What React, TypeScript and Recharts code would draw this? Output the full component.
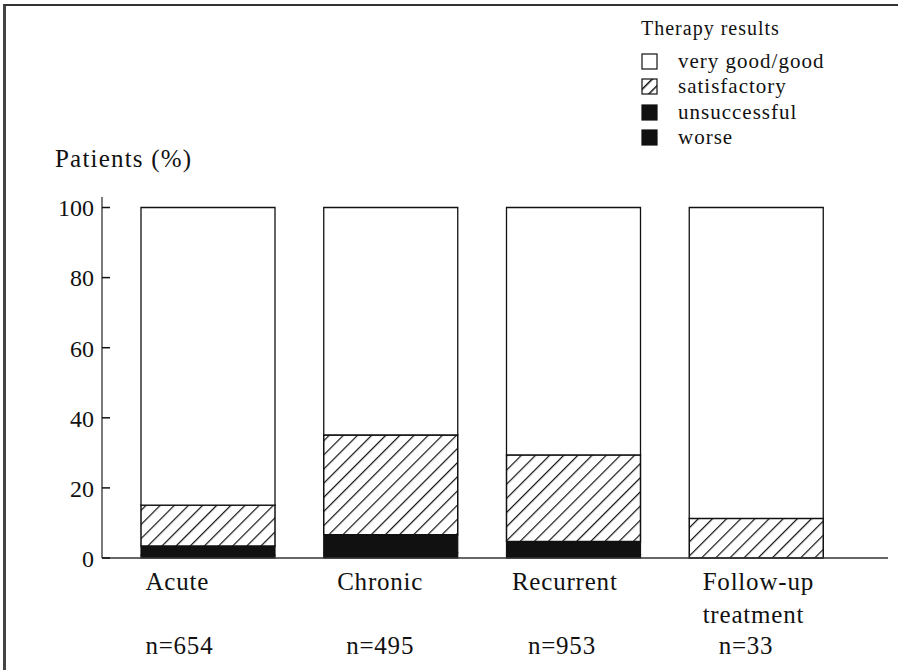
import { BarChart, Bar, XAxis, YAxis, Legend } from 'recharts';

const categories = ['Acute', 'Chronic', 'Recurrent', 'Follow-up\ntreatment'];
const sampleSizes = ['n=654', 'n=495', 'n=953', 'n=33'];

const worse = [0.8, 1.5, 1.0, 0];
const unsuccessful = [2.6, 5.1, 3.7, 0];
const satisfactory = [11.7, 28.5, 24.7, 11.3];
const veryGoodGood = [84.9, 64.9, 70.6, 88.7];

const yTicks = [0, 20, 40, 60, 80, 100];

const legendItems = [
  { key: 'good', label: 'very good/good' },
  { key: 'satisfactory', label: 'satisfactory' },
  { key: 'unsuccessful', label: 'unsuccessful' },
  { key: 'worse', label: 'worse' },
];

const data = categories.map((c, i) => ({
  name: c,
  n: sampleSizes[i],
  worse: worse[i],
  unsuccessful: unsuccessful[i],
  satisfactory: satisfactory[i],
  good: veryGoodGood[i],
}));

const FONT = '"Liberation Serif", "DejaVu Serif", serif';
const INK = '#111';
const BAR_SIZE = 134;

// label / n= offsets from the bar's left edge, as set in the original
const labelDx = [4, 13, 5, 13];
const nDx = [4, 22, 21, 29];

function CategoryTick(props: any) {
  const { x, y, payload, index } = props;
  const left = x - BAR_SIZE / 2;
  const lines = String(payload.value).split('\n');
  return (
    <g fontFamily={FONT} fontSize={25} letterSpacing={0.8} fill={INK}>
      {lines.map((l, k) => (
        <text key={k} x={left + labelDx[index]} y={y + 32 + k * 33} textAnchor="start">
          {l}
        </text>
      ))}
      <text x={left + nDx[index]} y={y + 96} textAnchor="start">
        {sampleSizes[index]}
      </text>
    </g>
  );
}

function ValueTick(props: any) {
  const { x, y, payload } = props;
  return (
    <g>
      <line x1={x + 6} x2={x + 14} y1={y} y2={y} stroke={INK} strokeWidth={1.5} />
      <text x={x - 2} y={y} dy="0.37em" textAnchor="end" fontFamily={FONT} fontSize={24} fill={INK}>
        {payload.value}
      </text>
    </g>
  );
}

function Swatch({ kind }: { kind: string }) {
  let fill = '#fff';
  if (kind === 'satisfactory') fill = 'url(#hatchSmall)';
  if (kind === 'unsuccessful' || kind === 'worse') fill = INK;
  return (
    <svg width={17} height={17} style={{ display: 'block' }}>
      <defs>
        <pattern id="hatchSmall" patternUnits="userSpaceOnUse" width={8} height={8} patternTransform="rotate(45)">
          <rect width={8} height={8} fill="#fff" />
          <line x1={0} y1={0} x2={0} y2={8} stroke={INK} strokeWidth={3} />
        </pattern>
      </defs>
      <rect x={1} y={1} width={15} height={15} fill={fill} stroke={INK} strokeWidth={1.2} />
    </svg>
  );
}

function TherapyLegend() {
  return (
    <div style={{ fontFamily: FONT, color: INK, letterSpacing: 1 }}>
      <div style={{ fontSize: 20, height: 24, lineHeight: '24px', marginBottom: 9 }}>Therapy results</div>
      {legendItems.map((it) => (
        <div key={it.key} style={{ display: 'flex', alignItems: 'center', height: 25.3, lineHeight: '25.3px' }}>
          <Swatch kind={it.key} />
          <span style={{ marginLeft: 20, fontSize: 21 }}>{it.label}</span>
        </div>
      ))}
    </div>
  );
}

export default function App() {
  return (
    <div style={{ position: 'absolute', left: 0, top: 0, width: 898, height: 670, background: '#fff' }}>
      <div
        style={{
          position: 'absolute',
          left: 3,
          top: 4,
          width: 895,
          height: 666,
          borderTop: '2px solid #333',
          borderLeft: '3px solid #444',
          boxSizing: 'border-box',
        }}
      />
      <BarChart
        width={898}
        height={670}
        data={data}
        margin={{ top: 197, right: 10, bottom: 82, left: 0 }}
        style={{ position: 'absolute', left: 0, top: 0 }}
      >
        <defs>
          <pattern id="hatch" patternUnits="userSpaceOnUse" width={10} height={10} patternTransform="rotate(45)">
            <rect width={10} height={10} fill="#fff" />
            <line x1={0} y1={0} x2={0} y2={10} stroke={INK} strokeWidth={2.4} />
          </pattern>
        </defs>
        <XAxis
          dataKey="name"
          interval={0}
          tickLine={false}
          tickSize={0}
          tickMargin={0}
          height={30}
          axisLine={{ stroke: '#333', strokeWidth: 1.3 }}
          padding={{ left: 15, right: 40 }}
          tick={<CategoryTick />}
        />
        <YAxis
          domain={[0, 103]}
          ticks={yTicks}
          tickLine={false}
          tickSize={0}
          tickMargin={6}
          width={102}
          axisLine={{ stroke: '#333', strokeWidth: 1.3 }}
          tick={<ValueTick />}
          label={{
            content: (p: any) => {
              const vb = p.viewBox || { x: 0, y: 197, width: 102 };
              return (
                <text x={vb.x + 55} y={vb.y - 30} fontFamily={FONT} fontSize={25} letterSpacing={1.2} fill={INK}>
                  Patients (%)
                </text>
              );
            },
          }}
        />
        <Legend
          layout="vertical"
          align="center"
          verticalAlign="middle"
          content={() => <TherapyLegend />}
          wrapperStyle={{ position: 'absolute', left: 641, top: 16, width: 250, height: 140 }}
        />
        <Bar dataKey="worse" stackId="a" fill={INK} stroke={INK} strokeWidth={1.2} barSize={BAR_SIZE} isAnimationActive={false} />
        <Bar dataKey="unsuccessful" stackId="a" fill={INK} stroke={INK} strokeWidth={1.2} barSize={BAR_SIZE} isAnimationActive={false} />
        <Bar dataKey="satisfactory" stackId="a" fill="url(#hatch)" stroke={INK} strokeWidth={1.5} barSize={BAR_SIZE} isAnimationActive={false} />
        <Bar dataKey="good" stackId="a" fill="#fff" stroke={INK} strokeWidth={1.3} barSize={BAR_SIZE} isAnimationActive={false} />
      </BarChart>
    </div>
  );
}
